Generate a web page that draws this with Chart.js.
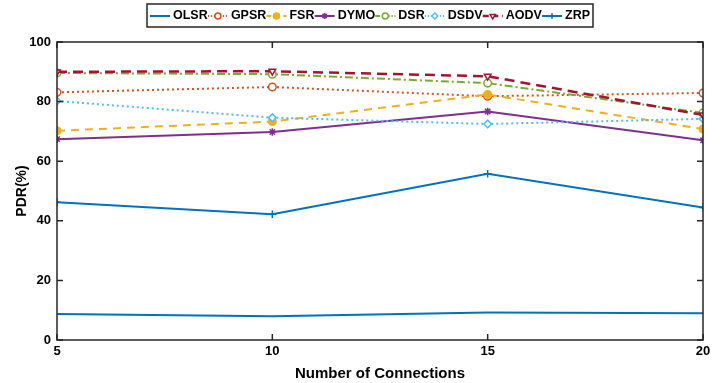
<!DOCTYPE html>
<html lang="en">
<head>
    <meta charset="UTF-8">
    <title>PDR vs Number of Connections</title>
    <script src="https://cdn.jsdelivr.net/npm/chart.js"></script>
    <style>
        body { margin: 0; padding: 0; background: #ffffff; }
        .wrap { width: 722px; height: 383px; position: relative; }
    </style>
</head>
<body>
    <div class="wrap"><canvas id="pdrChart" width="722" height="383"></canvas></div>

    <script>
        // values
        const connections = [5, 10, 15, 20];
        const olsr = [8.7, 8.0, 9.2, 9.0];
        const gpsr = [83.1, 84.9, 81.8, 82.9];
        const fsr  = [70.2, 73.3, 82.4, 70.8];
        const dymo = [67.4, 69.8, 76.7, 67.0];
        const dsr  = [89.6, 89.2, 86.2, 76.2];
        const dsdv = [80.2, 74.6, 72.5, 74.2];
        const aodv = [90.0, 90.2, 88.5, 75.5];
        const zrp  = [46.2, 42.2, 55.8, 44.5];
        const yTicks = [0, 20, 40, 60, 80, 100];

        const axisFont = 'Arial, "Liberation Sans", sans-serif';

        function pts(arr) {
            return arr.map((v, i) => ({ x: connections[i], y: v }));
        }

        function series(label, arr, color, dash, style, opts) {
            return Object.assign({
                label: label,
                data: pts(arr),
                borderColor: color,
                backgroundColor: '#ffffff',
                pointBorderColor: color,
                pointBackgroundColor: '#ffffff',
                borderWidth: 2,
                borderDash: dash,
                pointStyle: style,
                pointRadius: 3.8,
                pointBorderWidth: 1.5,
                tension: 0,
                fill: false
            }, opts || {});
        }

        const datasets = [
            series('OLSR', olsr, '#0072BD', [], false, { pointRadius: 0, order: 8 }),
            series('GPSR', gpsr, '#D95319', [2, 3], 'circle', { order: 7 }),
            series('FSR', fsr, '#EDB120', [8, 6], 'circle', { pointBackgroundColor: '#EDB120', order: 6 }),
            series('DYMO', dymo, '#7E2F8E', [], 'star', { order: 5 }),
            series('DSR', dsr, '#77AC30', [8, 3, 2, 3], 'circle', { order: 4 }),
            series('DSDV', dsdv, '#4DBEEE', [2, 3], 'rectRot', { order: 3 }),
            series('AODV', aodv, '#A2142F', [10, 6], 'triangle', { borderWidth: 2.5, pointRotation: 180, order: 2 }),
            series('ZRP', zrp, '#0072BD', [], 'cross', { order: 1 })
        ];

        // MATLAB-style box with inward ticks
        const boxAxes = {
            id: 'boxAxes',
            afterDatasetsDraw(chart) {
                const ctx = chart.ctx;
                const a = chart.chartArea;
                const xs = chart.scales.x, ys = chart.scales.y;
                ctx.save();
                ctx.strokeStyle = '#262626';
                ctx.lineWidth = 1.5;
                ctx.setLineDash([]);
                ctx.strokeRect(a.left, a.top, a.right - a.left, a.bottom - a.top);
                const t = 6;
                ctx.beginPath();
                connections.forEach(v => {
                    const px = xs.getPixelForValue(v);
                    ctx.moveTo(px, a.bottom); ctx.lineTo(px, a.bottom - t);
                    ctx.moveTo(px, a.top); ctx.lineTo(px, a.top + t);
                });
                yTicks.forEach(v => {
                    const py = ys.getPixelForValue(v);
                    ctx.moveTo(a.left, py); ctx.lineTo(a.left + t, py);
                    ctx.moveTo(a.right, py); ctx.lineTo(a.right - t, py);
                });
                ctx.stroke();
                ctx.restore();
            }
        };

        // legend drawn as one boxed row, line sample + marker + name
        const boxLegend = {
            id: 'boxLegend',
            afterDraw(chart) {
                const ctx = chart.ctx;
                const left = 147, top = 4, w = 446, h = 23;
                const sample = 20, gapText = 3;
                ctx.save();
                ctx.fillStyle = '#ffffff';
                ctx.fillRect(left, top, w, h);
                ctx.strokeStyle = '#262626';
                ctx.lineWidth = 1.5;
                ctx.strokeRect(left, top, w, h);
                ctx.font = 'bold 12.5px ' + axisFont;
                ctx.textBaseline = 'middle';
                const widths = datasets.map(d => ctx.measureText(d.label).width);
                const used = widths.reduce((s, v) => s + v + sample + gapText, 0);
                const gap = (w - 6 - used) / (datasets.length - 1);
                let x = left + 3;
                const cy = top + h / 2 + 0.5;
                datasets.forEach((d, i) => {
                    ctx.strokeStyle = d.borderColor;
                    ctx.lineWidth = d.borderWidth;
                    ctx.setLineDash(d.borderDash.map(v => v * 0.6));
                    ctx.beginPath();
                    ctx.moveTo(x, cy); ctx.lineTo(x + sample, cy);
                    ctx.stroke();
                    ctx.setLineDash([]);
                    if (d.pointStyle && d.pointRadius > 0) {
                        ctx.fillStyle = d.pointBackgroundColor;
                        ctx.strokeStyle = d.borderColor;
                        ctx.lineWidth = 1.5;
                        Chart.helpers.drawPoint(ctx, {
                            pointStyle: d.pointStyle,
                            rotation: d.pointRotation || 0,
                            radius: 3,
                            borderWidth: 1.5
                        }, x + sample / 2, cy);
                    }
                    ctx.fillStyle = '#000000';
                    ctx.fillText(d.label, x + sample + gapText, cy);
                    x += sample + gapText + widths[i] + gap;
                });
                ctx.restore();
            }
        };

        const ctx = document.getElementById('pdrChart').getContext('2d');
        const pdrChart = new Chart(ctx, {
            type: 'line',
            data: { datasets: datasets },
            options: {
                responsive: false,
                animation: false,
                layout: { padding: { top: 42, right: 19, left: 0, bottom: 0 } },
                plugins: {
                    legend: { display: false },
                    tooltip: { enabled: false }
                },
                scales: {
                    x: {
                        type: 'linear',
                        min: 5, max: 20,
                        grid: { display: false, drawTicks: false },
                        border: { display: false },
                        afterFit(s) { s.height = 43; },
                        afterBuildTicks(s) { s.ticks = connections.map(v => ({ value: v })); },
                        ticks: {
                            padding: 4,
                            color: '#000000',
                            font: { family: axisFont, size: 13, weight: 'bold' }
                        },
                        title: {
                            display: true,
                            text: 'Number of Connections',
                            color: '#000000',
                            padding: 0,
                            font: { family: axisFont, size: 15, weight: 'bold' }
                        }
                    },
                    y: {
                        min: 0, max: 100,
                        grid: { display: false, drawTicks: false },
                        border: { display: false },
                        afterFit(s) { s.width = 57; },
                        afterBuildTicks(s) { s.ticks = yTicks.map(v => ({ value: v })); },
                        ticks: {
                            padding: 6,
                            color: '#000000',
                            font: { family: axisFont, size: 13, weight: 'bold' }
                        },
                        title: {
                            display: true,
                            text: 'PDR(%)',
                            color: '#000000',
                            padding: { top: 14, bottom: 0 },
                            font: { family: axisFont, size: 14, weight: 'bold' }
                        }
                    }
                }
            },
            plugins: [boxAxes, boxLegend]
        });
    </script>
</body>
</html>
